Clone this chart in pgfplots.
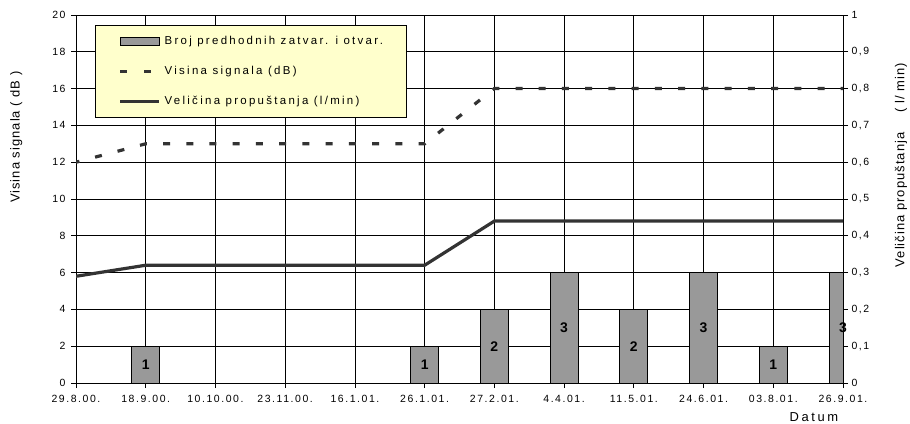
\documentclass[border=0pt]{standalone}
\usepackage{fontspec}
\setmainfont{Liberation Sans}
\newfontfamily\tickfont{Liberation Sans}[LetterSpace=15]
\newfontfamily\legendfont{Liberation Sans}[LetterSpace=20]
\newfontfamily\labelfont{Liberation Sans}[LetterSpace=8]
\newfontfamily\datumfont{Liberation Sans}[LetterSpace=20]
\usepackage{pgfplots}
\pgfplotsset{compat=1.18}

\definecolor{barfill}{HTML}{999999}
\definecolor{lineclr}{HTML}{333333}
\definecolor{legendbg}{HTML}{FFFFCC}

\pgfplotsset{
  base/.style={
    at={(0,0)}, anchor=south west,
    width=767bp, height=368bp, scale only axis,
    xmin=0, xmax=11,
    /pgf/number format/assume math mode=true,
  },
}

\begin{document}
\begin{tikzpicture}
\useasboundingbox (-76bp,-41bp) rectangle (834bp,383bp);

% frame, grid, left scale and the dates
\begin{axis}[base,
  ymin=0, ymax=20, ytick={0,2,...,20}, ytick pos=left,
  xtick={0,...,11}, xtick pos=bottom,
  xticklabels={29.8.00.,18.9.00.,10.10.00.,23.11.00.,16.1.01.,26.1.01.,27.2.01.,4.4.01.,11.5.01.,24.6.01.,03.8.01.,26.9.01.},
  tick align=outside, major tick length=5bp,
  grid=major, major grid style={black, line width=0.8bp},
  axis line style={black, line width=0.8bp},
  tick style={black, line width=0.8bp},
  ticklabel style={font=\fontsize{10.5}{12}\tickfont},
  xticklabel style={yshift=-4bp},
  yticklabel style={xshift=-2bp},
  ylabel={Visina signala ( dB )},
  ylabel style={font=\fontsize{13}{15}\labelfont, at={(axis description cs:-0.078,0.668)}, anchor=center},
  xlabel={Datum},
  xlabel style={font=\fontsize{13}{15}\datumfont, at={(axis description cs:0.962,-0.092)}, anchor=center},
]
\end{axis}

% number of previous closings and openings
\begin{axis}[base, hide axis, ymin=0, ymax=10,
  ybar, bar width=28bp, bar shift=0pt,
  visualization depends on=y \as \rawy,
  nodes near coords,
  every node near coord/.append style={font=\fontsize{14}{16}\bfseries, text=black, anchor=center,
    shift={(axis direction cs:0,-\rawy/2)}},
]
\addplot[fill=barfill, draw=black, line width=0.8bp]
  coordinates {(1,1) (5,1) (6,2) (7,3) (8,2) (9,3) (10,1) (11,3)};
\end{axis}

% signal level (dB), left scale
\begin{axis}[base, hide axis, ymin=0, ymax=20]
\addplot[lineclr, line width=3.2bp, dash pattern=on 7bp off 16.23bp, dash phase=3.5bp]
  coordinates {(0,12) (1,13) (2,13) (3,13) (4,13) (5,13) (6,16) (7,16) (8,16) (9,16) (10,16) (11,16)};
\end{axis}

% leakage (l/min), right scale, and the legend
\begin{axis}[base, ymin=0, ymax=1,
  axis x line=none, axis y line*=right,
  ytick={0,0.1,0.2,0.3,0.4,0.5,0.6,0.7,0.8,0.9,1},
  yticklabel style={/pgf/number format/.cd, use comma, fixed, precision=1},
  tick align=outside, major tick length=5bp,
  axis line style={black, line width=0.8bp},
  tick style={black, line width=0.8bp},
  ticklabel style={font=\fontsize{10.5}{12}\tickfont},
  ylabel={Veličina propuštanja\hspace{20bp}( l/ min)},
  ylabel style={font=\fontsize{13}{15}\labelfont, at={(axis description cs:1.0756,0.592)}, anchor=center},
  legend cell align=left,
  legend style={at={(axis description cs:0.0248,0.973)}, anchor=north west,
    draw=black, line width=0.8bp, fill=legendbg,
    inner xsep=23bp, inner ysep=10bp, row sep=18bp,
    font=\fontsize{11.5}{13}\legendfont,
    nodes={inner sep=0pt, minimum height=12bp},
    /tikz/every odd column/.append style={column sep=4bp}},
]
\addlegendimage{legend image code/.code={\draw[fill=barfill, draw=black, line width=0.8bp] (0bp,-4bp) rectangle (39bp,4bp);}}
\addlegendentry{Broj predhodnih zatvar. i otvar.}
\addlegendimage{legend image code/.code={\draw[lineclr, line width=3.2bp, dash pattern=on 7bp off 17bp] (0bp,0bp) -- (39bp,0bp);}}
\addlegendentry{Visina signala (dB)}
\addplot[lineclr, line width=3.2bp,
  legend image code/.code={\draw[lineclr, line width=3.2bp] (0bp,0bp) -- (39bp,0bp);}]
  coordinates {(0,0.29) (1,0.32) (2,0.32) (3,0.32) (4,0.32) (5,0.32) (6,0.44) (7,0.44) (8,0.44) (9,0.44) (10,0.44) (11,0.44)};
\addlegendentry{Veličina propuštanja (l/min)}
\end{axis}
\end{tikzpicture}
\end{document}
